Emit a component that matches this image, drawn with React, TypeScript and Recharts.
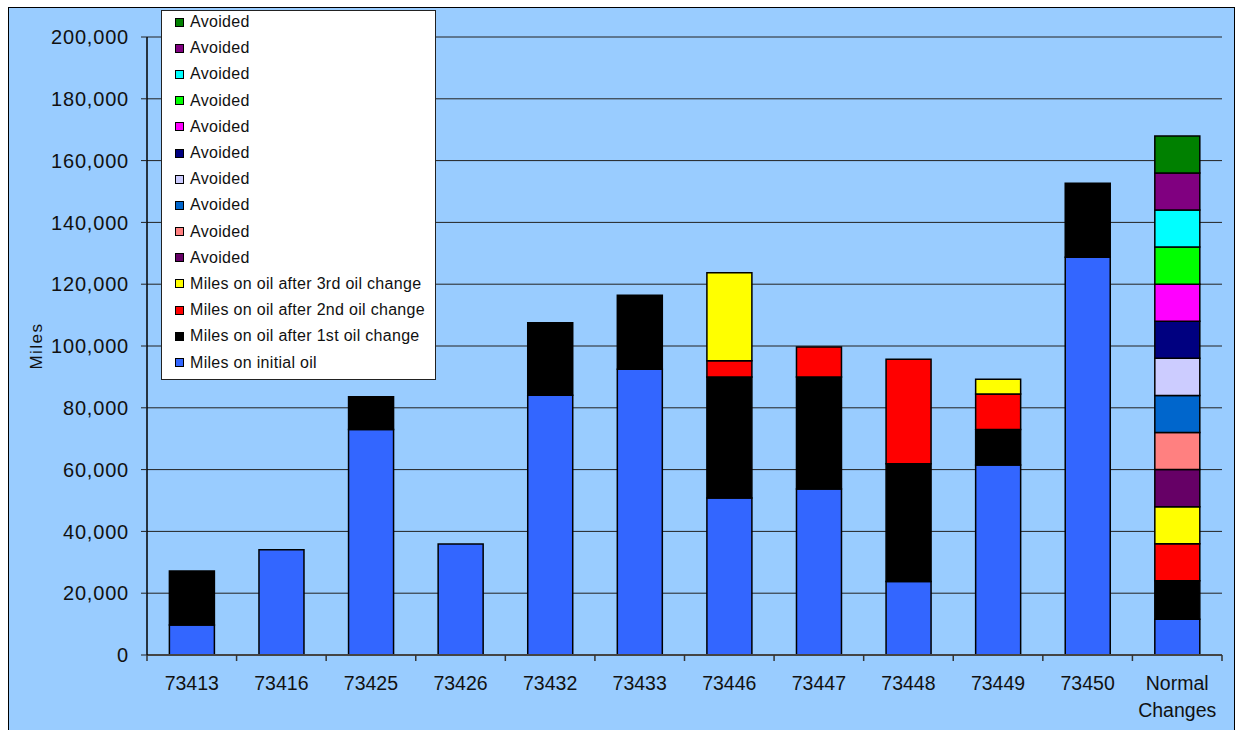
import { BarChart, Bar, XAxis, YAxis, CartesianGrid, Label } from 'recharts';

const categories = ['73413', '73416', '73425', '73426', '73432', '73433', '73446', '73447', '73448', '73449', '73450', 'Normal Changes'];
const initialOil = [9700, 34100, 73000, 35900, 84100, 92500, 50800, 53700, 23800, 61500, 128700, 11600];
const afterFirst = [17500, 0, 10600, 0, 23400, 23900, 39200, 36300, 38100, 11500, 24000, 12400];
const afterSecond = [0, 0, 0, 0, 0, 0, 5200, 9700, 33800, 11500, 0, 12000];
const afterThird = [0, 0, 0, 0, 0, 0, 28500, 0, 0, 4700, 0, 12000];
// avoided changes only exist for the "Normal Changes" column, bottom to top
const avoidedNormal = [12000, 12000, 12000, 12000, 12000, 12000, 12000, 12000, 12000, 12000];
const avoidedColors = ['#660066', '#FF8080', '#0066CC', '#CCCCFF', '#000080', '#FF00FF', '#00FF00', '#00FFFF', '#800080', '#008000'];
const yTicks = [0, 20000, 40000, 60000, 80000, 100000, 120000, 140000, 160000, 180000, 200000];

const series = [
  { key: 'initial', name: 'Miles on initial oil', color: '#3366FF', values: initialOil },
  { key: 'first', name: 'Miles on oil after 1st oil change', color: '#000000', values: afterFirst },
  { key: 'second', name: 'Miles on oil after 2nd oil change', color: '#FF0000', values: afterSecond },
  { key: 'third', name: 'Miles on oil after 3rd oil change', color: '#FFFF00', values: afterThird },
  ...avoidedNormal.map((v, k) => ({
    key: `avoided${k}`,
    name: 'Avoided',
    color: avoidedColors[k],
    values: categories.map((_, i) => (i === categories.length - 1 ? v : 0)),
  })),
];

const data = categories.map((name, i) => {
  const row: Record<string, string | number> = { name };
  series.forEach((s) => {
    row[s.key] = s.values[i];
  });
  return row;
});

const W = 1236;
const H = 730;
const M = { top: 37, right: 14, bottom: 0, left: 0 };
const Y_W = 147;
const X_H = 75;
const BAND = (W - M.left - M.right - Y_W) / categories.length;
const FONT = '"Liberation Sans", Arial, sans-serif';

function CategoryTick(props: any) {
  const { x, y, payload, index } = props;
  const lines = String(payload.value).split(' ');
  const isLast = index === categories.length - 1;
  return (
    <g>
      <line x1={x - BAND / 2} x2={x - BAND / 2} y1={y} y2={y + 6} stroke="#333" strokeWidth={1.5} />
      {isLast && <line x1={x + BAND / 2} x2={x + BAND / 2} y1={y} y2={y + 6} stroke="#333" strokeWidth={1.5} />}
      {lines.map((l, j) => (
        <text
          key={j}
          x={x}
          y={y + 28 + j * 27}
          textAnchor="middle"
          dominantBaseline="central"
          fontFamily={FONT}
          fontSize={19.5}
          fill="#111"
        >
          {l}
        </text>
      ))}
    </g>
  );
}

export default function App() {
  const legendItems = [...series].reverse();
  return (
    <div style={{ position: 'absolute', left: 0, top: 0, width: W, height: H, background: '#fff', overflow: 'hidden' }}>
      <div
        style={{
          position: 'absolute',
          left: 8,
          top: 7,
          width: 1227,
          height: 760,
          border: '1px solid #000',
          background: '#99CCFF',
          boxSizing: 'border-box',
        }}
      />
      <div style={{ position: 'absolute', left: 0, top: 0 }}>
        <BarChart width={W} height={H} data={data} margin={M} barCategoryGap="25%">
          <CartesianGrid vertical={false} stroke="#222" strokeWidth={1} />
          <XAxis
            dataKey="name"
            height={X_H}
            interval={0}
            tickLine={false}
            tickSize={0}
            tickMargin={0}
            tick={<CategoryTick />}
            axisLine={{ stroke: '#444', strokeWidth: 2 }}
          />
          <YAxis
            width={Y_W}
            domain={[0, 200000]}
            ticks={yTicks}
            interval={0}
            tickSize={6}
            tickMargin={12}
            tickFormatter={(v: number) => v.toLocaleString('en-US')}
            tick={{ fill: '#111', fontSize: 20, fontFamily: FONT, letterSpacing: 0.8 }}
            tickLine={{ stroke: '#222' }}
            axisLine={{ stroke: '#000', strokeWidth: 1.5 }}
          >
            <Label
              content={({ viewBox }: any) => (
                <text
                  x={36}
                  y={viewBox.y + viewBox.height / 2}
                  transform={`rotate(-90, 36, ${viewBox.y + viewBox.height / 2})`}
                  textAnchor="middle"
                  dominantBaseline="central"
                  fontFamily={FONT}
                  fontSize={17}
                  letterSpacing={1.5}
                  fill="#111"
                >
                  Miles
                </text>
              )}
            />
          </YAxis>
          <YAxis yAxisId="frame" orientation="right" width={0} tick={false} tickLine={false} axisLine={{ stroke: '#8a8a8a', strokeWidth: 2 }} />
          {series.map((s) => (
            <Bar
              key={s.key}
              dataKey={s.key}
              name={s.name}
              stackId="miles"
              fill={s.color}
              stroke="#000"
              strokeWidth={1.5}
              isAnimationActive={false}
            />
          ))}
        </BarChart>
      </div>
      <div
        style={{
          position: 'absolute',
          left: 161,
          top: 10,
          width: 275,
          height: 370,
          background: '#fff',
          border: '1px solid #222',
          boxSizing: 'border-box',
          fontFamily: FONT,
          fontSize: 16,
          letterSpacing: 0.3,
          color: '#111',
        }}
      >
        <div style={{ marginTop: -2 }}>
          {legendItems.map((s) => (
            <div key={s.key} style={{ height: 26.2, display: 'flex', alignItems: 'center', paddingLeft: 13 }}>
              <div
                style={{
                  width: 9,
                  height: 9,
                  background: s.color,
                  border: '1px solid #000',
                  boxSizing: 'border-box',
                  marginRight: 6,
                  flexShrink: 0,
                }}
              />
              <span style={{ whiteSpace: 'nowrap' }}>{s.name}</span>
            </div>
          ))}
        </div>
      </div>
    </div>
  );
}
